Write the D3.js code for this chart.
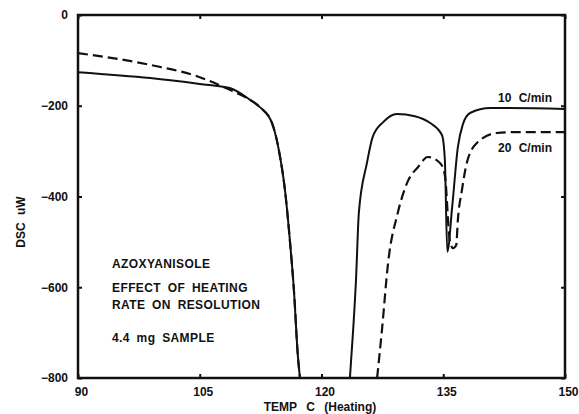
<!DOCTYPE html>
<html>
<head>
<meta charset="utf-8">
<script src="https://cdn.jsdelivr.net/npm/d3@7"></script>
<style>
  body { margin: 0; background: #fff; }
  text { font-family: "Liberation Sans", Arial, sans-serif; font-weight: bold; fill: #111; }
</style>
</head>
<body>
<div id="chart"></div>
<script>
// 10 C/min run (solid) - null marks where the trace runs off the bottom
const temp10 = [90, 98.9, 105, 108.7, 111.2, 112.4, 113.9, 114.9, 115.5, 116.1, 116.6, 117.1, 117.35,
  null,
  123.5, 123.9, 124.25, 124.6, 125.6, 126.3, 127.6, 129.3, 131.5, 133.4, 134.85, 135.2, 135.5,
  136.1, 136.8, 137.4, 138.3, 140.8, 150]
const dsc10 = [-126, -139, -152, -161, -187, -203, -238, -313, -386, -496, -606, -754, -800,
  null,
  -800, -694, -584, -436, -326, -269, -236, -218, -223, -238, -265, -320, -522,
  -423, -291, -242, -216, -205, -207]

// 20 C/min run (dashed)
const temp20 = [90, 98.9, 105, 108.7, 111.2, 112.4, 113.9, 114.9, 115.5, 116.1, 116.6, 117.1, 117.35,
  null,
  126.85, 127.45, 128.2, 129.4, 130.7, 131.9, 133.1, 134.6, 135.2, 135.8, 136.2, 136.6,
  136.8, 137.3, 137.9, 139.15, 141.6, 144.1, 150]
const dsc20 = [-84, -110, -137, -165, -187, -203, -238, -313, -386, -496, -606, -754, -800,
  null,
  -800, -694, -547, -436, -364, -335, -313, -326, -353, -496, -514, -507,
  -452, -386, -326, -282, -260, -258, -258]

const xTicks = [90, 105, 120, 135, 150]
const yTicks = [0, -200, -400, -600, -800]

const notes = ["AZOXYANISOLE", "EFFECT OF HEATING", "RATE ON RESOLUTION", "4.4 mg SAMPLE"]

const width = 579, height = 414
const margin = { top: 15, right: 14, bottom: 36, left: 78 }

const svg = d3.select("#chart").append("svg")
  .attr("width", width)
  .attr("height", height)

const x = d3.scaleLinear().domain([90, 150]).range([margin.left, width - margin.right])
const y = d3.scaleLinear().domain([-800, 0]).range([height - margin.bottom, margin.top])

// frame
svg.append("rect")
  .attr("x", x(90)).attr("y", y(0))
  .attr("width", x(150) - x(90)).attr("height", y(-800) - y(0))
  .attr("fill", "none").attr("stroke", "#111").attr("stroke-width", 2.5)

// axes with short inward ticks
const axBottom = svg.append("g")
  .attr("transform", "translate(0," + y(-800) + ")")
  .call(d3.axisBottom(x).tickValues(xTicks).tickSizeInner(-4).tickSizeOuter(0).tickPadding(9))
const axTop = svg.append("g")
  .attr("transform", "translate(0," + y(0) + ")")
  .call(d3.axisTop(x).tickValues(xTicks).tickSizeInner(-4).tickSizeOuter(0).tickFormat(""))
const axLeft = svg.append("g")
  .attr("transform", "translate(" + x(90) + ",0)")
  .call(d3.axisLeft(y).tickValues(yTicks).tickSizeInner(-4).tickSizeOuter(0).tickPadding(10))
const axRight = svg.append("g")
  .attr("transform", "translate(" + x(150) + ",0)")
  .call(d3.axisRight(y).tickValues(yTicks).tickSizeInner(-4).tickSizeOuter(0).tickFormat(""))

;[axBottom, axTop, axLeft, axRight].forEach(function (g) {
  g.select(".domain").remove()
  g.selectAll(".tick line").attr("stroke", "#111").attr("stroke-width", 2)
  g.selectAll(".tick text")
    .attr("font-size", 12)
    .attr("font-family", "Liberation Sans, Arial, sans-serif")
    .attr("font-weight", "bold")
    .attr("fill", "#111")
})
axBottom.selectAll(".tick text").attr("dx", 3)

// traces
function pts(t, v) {
  return t.map(function (d, i) { return [d, v[i]] })
}
const line = d3.line()
  .defined(function (d) { return d[0] !== null && d[1] !== null })
  .x(function (d) { return x(d[0]) })
  .y(function (d) { return y(d[1]) })
  .curve(d3.curveMonotoneX)

svg.append("path")
  .attr("d", line(pts(temp20, dsc20)))
  .attr("fill", "none").attr("stroke", "#111").attr("stroke-width", 2.2)
  .attr("stroke-dasharray", "10,5")

svg.append("path")
  .attr("d", line(pts(temp10, dsc10)))
  .attr("fill", "none").attr("stroke", "#111").attr("stroke-width", 2)

// series labels
svg.append("text").attr("x", 498).attr("y", 102).attr("font-size", 12)
  .style("word-spacing", "4px").text("10 C/min")
svg.append("text").attr("x", 498).attr("y", 152).attr("font-size", 12)
  .style("word-spacing", "4px").text("20 C/min")

// axis titles
svg.append("text")
  .attr("transform", "translate(25,222) rotate(-90)")
  .attr("text-anchor", "middle").attr("font-size", 12)
  .style("word-spacing", "4px")
  .text("DSC uW")
svg.append("text")
  .attr("x", 320).attr("y", 411)
  .attr("text-anchor", "middle").attr("font-size", 12)
  .style("word-spacing", "6px")
  .text("TEMP C (Heating)")

// annotation block
const noteY = [268, 292, 309, 342]
notes.forEach(function (n, i) {
  svg.append("text")
    .attr("x", 112).attr("y", noteY[i])
    .attr("font-size", 12)
    .style("letter-spacing", "0.4px")
    .style("word-spacing", "3px")
    .text(n)
})
</script>
</body>
</html>
